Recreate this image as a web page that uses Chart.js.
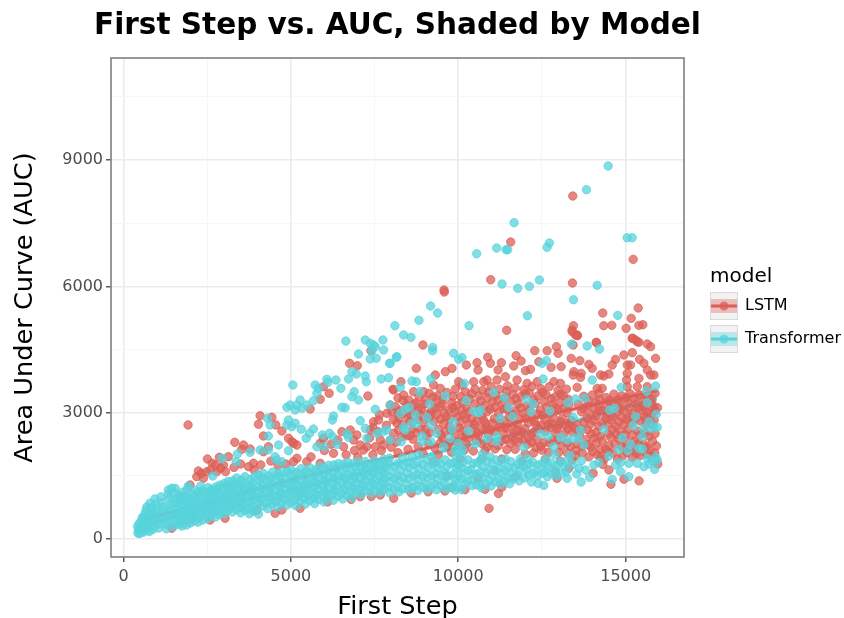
<!DOCTYPE html>
<html>
<head>
<meta charset="utf-8">
<title>First Step vs. AUC</title>
<script src="https://cdn.jsdelivr.net/npm/chart.js@4/dist/chart.umd.min.js"></script>
<style>
  html, body { margin: 0; padding: 0; background: #fff; }
  canvas { display: block; }
</style>
</head>
<body>
<canvas id="auc-chart" width="844" height="618"></canvas>
<script>
// values: [first step, auc]
const lstmPoints = [
[1929,2708],[13420,8146],[11566,7054],[15224,6642],[10968,6158],[13410,6080],[9574,5914],[9583,5866],[15374,5486],[14316,5367],[15165,5241],[13440,5066],[13400,4964],[14346,5066],[14585,5075],[15393,5075],[15513,5090],[15015,5004],[11446,4957],[13500,4845],[13560,4828],[14119,4672],[15194,4767],[15294,4726],[15393,4672],
[6752,4173],[6982,4116],[7391,4472],[6144,3460],[7301,3396],[5974,3617],[5875,3318],[5576,3087],[8049,3555],
[4081,2928],[4430,2890],[4031,2724],[4550,2708],[4180,2446],[4730,2565],[4928,2392],[5029,2311],[5179,2232],[5079,2273],[3324,2297],[3583,2232],[3782,2138],[3533,2130],[4180,2073],[4330,2192],[2506,1900],[2864,1940],[3133,1955],[2736,1758],[2984,1758],[2237,1615],[2189,1480],[3881,1798],[3732,1717],[3902,1639],[2786,1599],[2488,1599],[2386,1442],[1988,1283],[2650,1800],[2900,1680],[3050,1600],[3300,1700],[3500,1780],[4100,1760],[4400,1850],[4620,1750],[2600,1640],[2330,1560],
[6524,2549],[6772,2589],[6972,2470],[6872,2351],[7072,2232],[7271,2192],[7171,2114],[7470,2786],[7620,2826],[7870,2985],[7969,3182],[8019,3023],[8218,2985],[8168,2748],[8218,2589],[8069,2510],[7969,2351],[7670,2351],[7769,2232],[7520,2192],[7370,2589],[5974,2392],[5875,2273],[6573,2192],[6273,2035],[5875,1798],[5179,1916],[5477,1836],[5079,1836],[6000,2100],[6400,2350],[6650,2000],[6900,2100],[7000,1950],[7450,2000],[7700,2100],[8000,2180],[7350,2400],[7600,2550],[7850,2700],[7650,2950],[7450,2650],[6200,2250],[5600,1950],[4850,1780],
[4530,610],[4730,689],[3982,689],[2586,451],[3035,491],[1441,254],[2039,491],[7072,1005],[8069,967],[7670,1045],[5277,1085],[5277,729],[6100,880],[6800,940],[7400,1010],[8600,1090],[9100,1120],[9600,1140],[10200,1170],[10800,1180],[11300,1230],
[8945,4608],[8746,4053],[9314,3895],[9613,3974],[9812,4053],[10241,4132],[10560,4188],[10590,4014],[10879,4315],[10959,4172],[11288,4188],[11188,4014],[11657,4109],[11727,4354],[11876,4228],[12285,4473],[12654,4473],[12933,4568],[12983,4410],[13402,4924],[13551,4845],[13432,4608],[14129,4663],[15216,4766],[15346,4687],[15645,4631],[15745,4568],[15894,4291],[15545,4172],[15416,4267],[15197,4425],[14947,4370],[14698,4267],[14598,4132],[13900,4148],[14000,4053],[13631,4235],[13372,4291],[13073,4093],[12774,4077],[12405,4212],[12155,4030],[12006,3998],[13452,3974],[13432,3895],[13671,3934],[13651,3839],[14249,3895],[14498,3919],[14349,3871],[15047,4132],[15146,4132],[15047,3934],[15027,3776],[15396,3816],[15645,4014],[15844,3895],[15745,3895],
[8287,3736],[8068,3538],[8367,3420],[8666,3499],[8965,3499],[9264,3657],[9464,3578],[10012,3736],[10112,3657],[10461,3736],[10760,3736],[10859,3776],[11158,3776],[11408,3855],[11757,3776],[12056,3697],[12355,3736],[12854,3736],[13053,3697],[13551,3602],[14149,3578],[14299,3578],[14199,3459],[15047,3618],[15346,3618],[15645,3618],
[8200,3350],[8520,3300],[8830,3370],[9130,3460],[9380,3400],[9660,3480],[9910,3560],[10210,3500],[10500,3560],[10730,3530],[10980,3620],[11230,3560],[11470,3640],[11700,3590],[11960,3550],[12200,3620],[12470,3570],[12720,3620],[12980,3530],[13230,3560],
[8120,3140],[8450,3180],[8730,3230],[9020,3300],[9270,3240],[9530,3320],[9800,3240],[10070,3380],[10340,3330],[10620,3400],[10880,3350],[11130,3420],[11400,3370],[11630,3440],[11880,3390],[12120,3470],[12380,3400],[12620,3430],[12890,3370],[13140,3400],
[8340,2980],[8620,3060],[8900,3110],[9200,3040],[9450,3140],[9720,3070],[9960,3170],[10250,3130],[10500,3210],[10790,3170],[11020,3260],[11300,3190],[11560,3260],[11790,3210],[12050,3160],[12300,3220],[12560,3260],[12810,3190],[13060,3240],[13300,3190],
[8060,2830],[8500,2880],[8860,2950],[9110,2870],[9360,2960],[9640,2900],[9900,3010],[10150,2950],[10400,2870],[10700,2920],[10950,3080],[11200,3000],[11460,3080],[11700,3040],[11950,2980],[12200,2880],[12450,3060],[12720,2980],[12980,3060],[13250,3000],
[8340,2720],[8620,2600],[8950,2760],[9280,2790],[9560,2740],[9750,2850],[10050,2780],[10300,2740],[10560,2800],[10820,2740],[11080,2860],[11350,2810],[11590,2760],[11830,2860],[12090,2760],[12330,2700],[12590,2830],[12850,2870],[13110,2860],[13380,2820],
[8450,2450],[8750,2520],[9030,2600],[9400,2600],[9620,2560],[9900,2500],[10150,2580],[10440,2620],[10700,2620],[10950,2600],[11230,2660],[11480,2630],[11740,2600],[11990,2620],[12250,2540],[12490,2700],[12750,2650],[13000,2700],[13280,2620],[13550,2720],
[8150,2300],[8650,2370],[9050,2450],[9520,2400],[9870,2330],[10100,2400],[10300,2400],[10600,2460],[10900,2470],[11350,2490],[11600,2430],[11850,2470],[12100,2400],[12350,2360],[12600,2560],[12900,2520],[13150,2500],[13400,2540],[13620,2460],
[8800,2200],[9300,2160],[9680,2200],[10000,2210],[10250,2240],[10700,2270],[11000,2280],[11300,2330],[11550,2270],[11800,2300],[12070,2250],[12320,2180],[12560,2290],[12820,2340],[13080,2220],[13350,2200],[13560,2260],
[8200,2050],[8950,2030],[9400,2000],[9800,2060],[10450,2090],[10800,2100],[11100,2140],[11450,2120],[11700,2130],[12000,2020],[12250,2040],[12500,2110],[12700,2060],[13000,2060],[13250,2050],[13500,2100],[9250,1850],[10050,1900],[10700,1900],[11300,1900],[11900,1840],[12600,1900],[13050,1850],[13400,1880],[9650,1500],[10600,1440],[11100,1620],[11700,1480],[12900,1600],[13300,1680],
[13750,3390],[14000,3420],[14420,3360],[14650,3440],[14880,3400],[15130,3450],[15400,3420],[15650,3380],[15880,3460],[13580,3200],[13850,3160],[14100,3240],[14340,3170],[14570,3220],[14800,3190],[15050,3250],[15300,3210],[15540,3180],[15780,3230],[15950,3120],
[13680,3020],[13940,2960],[14200,3040],[14440,2950],[14720,2990],[14950,3040],[15200,2980],[15420,3050],[15650,3000],[15870,3040],[13760,2780],[14040,2820],[14300,2760],[14560,2830],[14800,2780],[15020,2840],[15430,2810],[15620,2880],[15850,2820],
[13860,2590],[14120,2540],[14600,2600],[14850,2560],[15080,2610],[15360,2560],[15600,2520],[15880,2500],[13820,2360],[14060,2400],[14300,2330],[14560,2420],[14790,2380],[15000,2340],[15270,2320],[15540,2250],[15800,2320],[15920,2210],
[13960,2180],[14250,2130],[14500,2220],[14980,2160],[15250,2100],[15700,2120],[15870,2040],[13900,1950],[14150,2000],[14360,1900],[14620,2040],[14900,1970],[15200,1940],[15430,1980],[15960,1780],[14320,1770],[14500,1640],[14560,1300],[15400,1380],[14030,1560],[12950,1440],[14950,1420],[10919,727],[11200,1080],[9800,1220],
[8350,3290],[8680,3190],[8980,3200],[9250,3370],[9520,3210],[9840,3390],[10130,3250],[10400,3450],[10680,3280],[10900,3480],[11180,3300],[11450,3500],[11720,3330],[12000,3450],[12250,3310],[12520,3480],[12780,3330],[13050,3440],[13280,3320],
[8250,3050],[8560,2960],[8810,3050],[9080,2970],[9310,3110],[9580,3000],[9840,3120],[10100,3060],[10330,3020],[10620,3080],[10860,3020],[11080,3130],[11350,3090],[11610,2960],[11860,3110],[12130,3080],[12370,2970],[12640,3130],[12900,3120],[13170,3110],
[8230,2880],[8570,2790],[8800,2840],[9180,2950],[9470,2850],[9740,2680],[9980,2900],[10230,2860],[10480,2720],[10760,2820],[11010,2750],[11260,2730],[11520,2900],[11770,2720],[12020,2870],[12270,2800],[12520,2940],[12780,2750],[13060,2780],[13320,2740],
[8310,2430],[8560,2460],[8880,2600],[9150,2530],[9490,2470],[9780,2580],[10030,2640],[10230,2470],[10560,2530],[10830,2620],[11100,2560],[11400,2640],[11660,2520],[11910,2540],[12180,2480],[12400,2620],[12680,2720],[12950,2620],[13200,2700],[13480,2630],
[8500,2130],[9100,2270],[9450,2270],[9720,2280],[10180,2110],[10550,2350],[10850,2180],[11200,2220],[11420,2370],[11680,2340],[11950,2340],[12200,2300],[12460,2200],[12720,2280],[12970,2350],[13250,2280],[13500,1980],[13700,2050],
[13880,3290],[14220,3310],[14510,3290],[14770,3300],[15010,3350],[15250,3330],[15530,3290],[15760,3320],[13740,3100],[14060,3100],[14300,3060],[14560,3090],[14850,3100],[15110,3120],[15370,3110],[15590,3090],[15840,3130],[13850,2870],[14120,2920],[14400,2860],[14620,2900],[14880,2890],[15120,2900],[15320,2880],[15540,2900],[15760,2920],
[13950,2730],[14200,2680],[14450,2720],[14700,2680],[14950,2720],[15190,2760],[15600,2720],[15780,2720],[13680,2610],[13980,2500],[14240,2440],[14480,2500],[14720,2480],[14980,2480],[15200,2470],[15440,2480],[15700,2440],[13700,2200],[13880,2240],[14120,2280],[14400,2130],[14680,2250],[14880,2190],[15120,2170],[15380,2280],[15620,2180],[14020,2080],[14260,1950],[14480,2070],[14760,1900],[15050,2050],[15320,2030],[15620,2020],[15780,1960]
];
const transformerPoints = [
[14477,8859],[13830,8297],[11667,7513],[11147,6911],[11427,6872],[11476,6870],[10550,6776],[12722,7030],[12652,6928],[15044,7156],[15194,7156],[11307,6056],[11776,5954],[12124,6001],[12424,6151],[14148,6025],[13440,5683],[12065,5304],[14764,5312],[9173,5534],[9383,5367],[8826,5194],[8107,5066],[8367,4845],[8586,4790],[10321,5066],
[6643,4702],[7221,4726],[7370,4648],[7470,4607],[7749,4726],[7520,4567],[7769,4489],[7421,4472],[7021,4394],[7370,4275],[7550,4292],[7947,4173],[8148,4315],[6823,3973],[6952,3919],[6722,3800],[7221,3871],[7251,3736],[7699,3800],[7918,3831],[6345,3776],[6076,3793],[6106,3722],[5726,3657],[5059,3657],[6494,3579],[5777,3460],[5825,3579],[6892,3498],[6823,3380],[7021,3301],[6623,3118],[6524,3128],[7520,3080],
[5277,3301],[4978,3182],[4880,3128],[5128,3064],[5328,3104],[5478,3182],[5675,3285],[5179,3182],[6273,2921],[6243,2826],[4928,2826],[4880,2708],[5128,2748],[5029,2667],[4380,2708],[4300,2867],[5307,2605],[5675,2613],[5556,2510],[5457,2392],[4330,2446],[6154,2510],[6243,2430],[5944,2470],[5777,2192],[5995,2192],[6375,2249],[6673,2494],[6722,2415],[7221,2629],[7072,2810],[7870,2589],[7570,2510],[7271,2392],[7749,2549],[4629,2232],[4928,2097],[4580,1876],[4730,1836],[4530,1955],[2954,1916],[3403,2019],[3364,1836],[3782,2059],[4081,2114],[4330,2114],[2667,1496],
[9862,4410],[10012,4267],[10112,4307],[9234,4552],[9234,4473],[8167,4330],[7968,4172],[13382,4631],[13850,4584],[14219,4513],[12504,4172],[12634,4235],[12534,3800],[14000,3776],[14867,3602],[15625,3515],[15894,3633],[9184,3800],[8616,3752],[8746,3736],[8267,3602],[8845,3499],[9613,3404],[9144,3206],[10241,3285],[10181,3697],[11059,3483],[11378,3356],[12036,3317],[12235,3206],[11507,3127],[10610,3000],[10461,3040],[10660,3063],[12175,3024],[12734,3040],[13272,3237],[13501,3325],[13780,3340],[14528,3063],[14668,3103],[15645,3237],[15914,2960],[15296,2905],[11258,2865],[11627,2905],[13432,2889],[9842,2786],[9812,2612],[10311,2564],[9344,2509],[8915,2445],[8915,2311],[9184,2311],[8367,2651],[8417,2588],[8297,2311],[8716,2944],[8766,2746],[9065,2889],[9184,2707],[8536,3127],[8417,3079],[8267,2984],[7968,3182],[7968,2350],[8616,2746],[12455,2493],[12684,2445],[13053,2414],[13651,2588],[14349,2604],[14897,2406],[15226,2691],[15496,2430],[15844,2667],[15944,2651],[15695,2786],[15745,2628],[15516,2628],[11158,2430],[11138,2311],[10859,2390],[10511,2255],[9763,2390],[9563,2192],[11956,2176],[12853,2192],[13252,2350],[13452,2390],[13601,2390],[13751,2232],[14797,2129],[15066,2097],[15146,2247],[15396,2152],[15496,2137],[14498,1970],[14698,1756],[14847,1812],[15096,1796],[15346,1796],[15645,1915],[15894,1939],[15944,1875],[15545,1717],[15864,1653],[14199,1812],[14050,1756],[13800,1638],[13920,1463],[13671,1352],[13252,1440],[12554,1273],[12385,1321],[12185,1352],[14598,1416],[15096,1479],[14847,1598],[15700,1780],[15800,1850],
[430,140],[450,220],[420,300],[470,370],[480,130],[520,190],[510,280],[540,350],[530,430],[560,510],[590,160],[600,250],[620,330],[640,420],[620,500],[640,590],[670,680],[700,760],[690,200],[710,290],[730,380],[760,470],[780,560],[800,650],[820,740],[790,850],[780,180],[880,230],[870,320],[900,420],[920,520],[950,620],[970,720],[960,830],[940,950],[1050,260],[1080,360],[1110,460],[1130,560],[1160,660],[1180,760],[1160,860],[1120,1000],[1280,240],[1300,340],[1330,440],[1350,540],[1380,640],[1400,740],[1420,840],[1380,960],[1330,1060],[1530,1090],[1560,960],[1580,850],[1500,300],[1520,400],[1560,500],[1590,600],[1610,700],[1441,1204],[1540,1204],[1340,1164],[1938,1259],[2308,1259],
[1750,310],[1720,430],[1780,540],[1800,650],[1760,770],[1790,880],[1780,1000],[1770,1110],[2000,380],[1950,500],[2020,610],[1990,720],[2050,830],[1980,950],[2040,1070],[2230,400],[2260,520],[2200,640],[2270,750],[2210,870],[2280,990],[2220,1110],[2500,480],[2480,600],[2530,720],[2470,840],[2540,960],[2490,1080],[2530,1220],[2750,520],[2700,640],[2770,760],[2720,880],[2780,1000],[2720,1120],[2770,1240],[3000,600],[2960,720],[3020,840],[2970,960],[3040,1080],[2980,1200],[3010,1320],[3250,640],[3200,760],[3270,880],[3220,1000],[3290,1120],[3230,1240],[3260,1380],
[3500,620],[3470,750],[3540,880],[3480,1010],[3550,1140],[3490,1270],[3530,1400],[3760,600],[3730,730],[3790,870],[3740,1000],[3800,1130],[3740,1260],[3790,1410],[4030,590],[3990,720],[4060,860],[4000,990],[4070,1120],[4010,1250],[4060,1390],[4030,1520],[4310,720],[4260,850],[4330,980],[4270,1110],[4340,1240],[4280,1370],[4330,1500],[4590,760],[4540,890],[4610,1020],[4550,1150],[4620,1280],[4560,1410],[4610,1550],[4870,800],[4820,930],[4890,1060],[4830,1190],[4900,1320],[4840,1450],[4890,1600],
[5150,790],[5100,920],[5170,1050],[5110,1180],[5180,1310],[5120,1440],[5170,1580],[5430,830],[5380,960],[5450,1090],[5390,1220],[5460,1350],[5400,1480],[5450,1620],[5710,840],[5660,970],[5730,1100],[5670,1230],[5740,1360],[5680,1490],[5730,1640],[5990,880],[5940,1010],[6010,1140],[5950,1270],[6020,1400],[5960,1530],[6010,1690],[6270,920],[6220,1050],[6290,1180],[6230,1310],[6300,1440],[6240,1570],[6290,1760],[6550,950],[6500,1080],[6570,1210],[6510,1340],[6580,1470],[6520,1600],[6570,1780],[6830,980],[6780,1110],[6850,1240],[6790,1370],[6860,1500],[6800,1630],[6850,1790],[7110,1060],[7060,1190],[7130,1320],[7070,1450],[7140,1580],[7080,1710],[7390,1090],[7340,1220],[7410,1350],[7350,1480],[7420,1610],[7360,1750],[7670,1110],[7620,1240],[7690,1370],[7630,1500],[7700,1630],[7640,1800],[7950,1100],[7900,1230],[7970,1360],[7910,1490],[7980,1620],[7920,1790],[7950,1920],
[8230,1120],[8180,1250],[8250,1380],[8190,1510],[8260,1640],[8200,1800],[8510,1170],[8460,1300],[8530,1430],[8470,1560],[8540,1690],[8480,1820],[8790,1150],[8740,1280],[8810,1410],[8750,1540],[8820,1670],[8780,1820],[8830,2000],[9070,1180],[9020,1310],[9090,1440],[9030,1570],[9100,1700],[9040,1890],[9350,1170],[9300,1300],[9370,1430],[9310,1560],[9380,1690],[9340,1830],[9630,1190],[9580,1320],[9650,1450],[9590,1580],[9660,1710],[9610,1880],[9910,1160],[9860,1290],[9930,1420],[9870,1550],[9940,1680],[9880,1810],[9930,1950],[9900,2100],[10100,1170],[10180,1300],[10080,1430],[10170,1560],[10090,1690],[10160,1820],[10090,1980],[10130,2130],[10000,2270],[10420,1270],[10370,1400],[10440,1530],[10380,1660],[10450,1790],[10700,1210],[10650,1340],[10720,1470],[10660,1600],[10730,1730],[10670,1880],[10720,2020],[10980,1260],[10930,1390],[11000,1520],[10940,1650],[11010,1780],[10950,1950],[11260,1300],[11210,1430],[11280,1560],[11220,1690],[11290,1820],[11540,1310],[11490,1440],[11560,1570],[11500,1700],[11570,1840],[11820,1380],[11770,1510],[11840,1640],[11780,1770],[11850,1900],[12100,1520],[12050,1650],[12120,1780],[12060,1910],[12380,1500],[12330,1630],[12400,1760],[12660,1480],[12610,1610],[12680,1740],[12620,1900],[12940,1500],[12890,1630],[12960,1760],[12880,2000],[13220,1600],[13170,1730],[13240,1860],[13340,1980],[13540,1540],[13610,1680],[13680,1860],[13420,1770],
[1660,350],[1640,540],[1680,820],[1670,1030],[1880,330],[1870,570],[1910,780],[1880,1020],[1900,1180],[2120,430],[2130,680],[2110,920],[2150,1150],[2370,450],[2360,680],[2390,900],[2360,1150],[2620,560],[2630,800],[2610,1010],[2640,1180],[2860,580],[2870,820],[2850,1060],[2880,1280],[3120,680],[3110,900],[3140,1140],[3130,1370],[3370,700],[3360,950],[3390,1200],[3380,1450],[3620,680],[3610,940],[3640,1200],[3630,1480],[3880,660],[3900,930],[3880,1190],[3910,1480],[4160,780],[4150,1050],[4180,1310],[4170,1560],[4430,830],[4440,1050],[4430,1300],[4460,1590],[4720,860],[4700,1090],[4730,1340],[4720,1600],[5000,860],[4990,1120],[5020,1380],[5010,1640],[5270,900],[5280,1130],[5290,1400],[5300,1670],[5560,910],[5550,1160],[5580,1430],[5570,1690],[5830,940],[5840,1190],[5850,1460],[5860,1720],[6110,990],[6120,1230],[6140,1490],[6130,1750],[6400,1010],[6390,1250],[6410,1520],[6420,1790],[6680,1030],[6690,1290],[6700,1540],[6700,1820],[6960,1110],[6970,1310],[6980,1570],[7000,1830],[7230,1150],[7240,1390],[7250,1650],[7220,1840],[7520,1170],[7530,1420],[7540,1680],[7500,1860],[7800,1190],[7800,1440],[7820,1700],[7780,1900],[8080,1180],[8090,1440],[8100,1720],[8340,1190],[8350,1460],[8370,1750],[8340,1930],[8640,1230],[8650,1490],[8660,1760],[8620,1950],[8920,1230],[8930,1490],[8940,1770],[9200,1240],[9210,1500],[9220,1780],[9200,1950],[9480,1250],[9490,1510],[9480,1780],[9780,1230],[9760,1500],[9760,1790],[9990,1220],[10010,1480],[10000,1750],[10020,2050],[10270,1360],[10280,1620],[10290,1880],[10560,1280],[10550,1540],[10570,1810],[10840,1310],[10830,1570],[10850,1850],[11120,1360],[11110,1620],[11130,1880],[11390,1380],[11400,1620],[11410,1900],[11660,1430],[11680,1700],[11970,1450],[11960,1720],[12240,1560],[12230,1820],[12520,1560],[12520,1800],[12790,1550],[12780,1800],[13070,1560],[13060,1830],
[1700,620],[1690,930],[1850,450],[1840,680],[1860,900],[2080,550],[2100,800],[2090,1000],[2320,580],[2330,800],[2310,1050],[2560,650],[2580,880],[2570,1120],[2800,680],[2820,940],[2810,1170],[3060,770],[3070,1010],[3080,1250],[3310,820],[3320,1060],[3330,1300],[3560,800],[3570,1070],[3580,1330],[3830,790],[3840,1060],[3850,1330],[4110,930],[4120,1190],[4130,1450],[4390,920],[4380,1180],[4400,1440],[4660,960],[4670,1220],[4680,1480],[4950,990],[4960,1250],[4970,1530],[5220,1000],[5240,1250],[5250,1530],[5500,1030],[5520,1290],[5530,1560],[5780,1040],[5790,1300],[5800,1590],[6060,1080],[6070,1340],[6080,1620],[6340,1120],[6350,1380],[6360,1660],[6620,1150],[6630,1410],[6640,1690],[6900,1180],[6910,1440],[6920,1710],[7170,1250],[7190,1520],[7200,1760],[7460,1290],[7470,1550],[7480,1770],[7740,1310],[7750,1570],[7760,1800]
];
// smoothing line and its band
const smoothX = [540, 2800, 5000, 6800, 8000, 10000, 12000, 14000, 15930];
const lstmSmooth = [450, 925, 1400, 1756, 1940, 2350, 2826, 3185, 3520];
const lstmUpper = [510, 960, 1430, 1790, 1990, 2410, 2880, 3260, 3630];
const lstmLower = [390, 890, 1370, 1720, 1890, 2290, 2770, 3110, 3410];
const transformerSmooth = [300, 820, 1150, 1510, 1770, 2180, 2530, 2900, 3330];
const transformerUpper = [350, 850, 1180, 1545, 1810, 2230, 2590, 2980, 3440];
const transformerLower = [250, 790, 1120, 1475, 1730, 2130, 2470, 2820, 3220];

const xTicks = [0, 2500, 5000, 7500, 10000, 12500, 15000];
const yTicks = [0, 1500, 3000, 4500, 6000, 7500, 9000, 10500];
const modelNames = ["LSTM", "Transformer"];
const lstmColor = "219,95,87";
const transformerColor = "87,211,219";

const toXY = (pairs) => pairs.map((p) => ({ x: p[0], y: p[1] }));
const onSmooth = (ys) => ys.map((y, i) => ({ x: smoothX[i], y: y }));

// legend key: grey square, band, line and dot. Transparent on the right so
// that the centred image lands on the legend's left edge.
const makeKey = (rgb) => {
  let c = document.createElement("canvas");
  c.width = 44;
  c.height = 28;
  let k = c.getContext("2d");
  k.fillStyle = "#f2f2f2";
  k.fillRect(0, 0, 28, 28);
  k.strokeStyle = "#d9d9d9";
  k.lineWidth = 1;
  k.strokeRect(0.5, 0.5, 27, 27);
  k.fillStyle = `rgba(${rgb},0.35)`;
  k.fillRect(1, 7, 26, 14);
  k.fillStyle = `rgba(${rgb},1)`;
  k.fillRect(1, 12.5, 26, 3);
  k.fillStyle = `rgba(${rgb},0.75)`;
  k.beginPath();
  k.arc(14, 14, 4.5, 0, Math.PI * 2);
  k.fill();
  return c;
};

const bandSet = (ys, rgb, target) => ({
  data: onSmooth(ys),
  showLine: true,
  pointRadius: 0,
  borderWidth: 0,
  borderColor: "transparent",
  backgroundColor: `rgba(${rgb},0.3)`,
  fill: target === undefined ? false : target,
  order: 3,
});
const lineSet = (ys, rgb) => ({
  data: onSmooth(ys),
  showLine: true,
  pointRadius: 0,
  borderWidth: 3,
  borderColor: `rgb(${rgb})`,
  fill: false,
  order: 3,
});
const markSet = (name, pairs, rgb, order) => ({
  label: name,
  data: toXY(pairs),
  pointRadius: 4.2,
  pointBorderWidth: 1,
  pointBackgroundColor: `rgba(${rgb},0.75)`,
  pointBorderColor: `rgba(${rgb},0.75)`,
  order: order,
});

const panelBorder = {
  id: "panelBorder",
  afterLayout(chart) {
    // the legend sits a little away from the panel and not vertically centred.
    // right and bottom too, the legend clips its text to this box
    chart.legend.left = 710;
    chart.legend.right = 844;
    chart.legend.top = 267;
    chart.legend.bottom = 618;
    // title is centred on the panel but wider than it, and gets squeezed otherwise
    chart.titleBlock.left = 80;
    chart.titleBlock.right = 715;
  },
  afterDatasetsDraw(chart) {
    const a = chart.chartArea;
    const ctx = chart.ctx;
    ctx.save();
    ctx.strokeStyle = "#7f7f7f";
    ctx.lineWidth = 1.6;
    ctx.strokeRect(a.left, a.top, a.right - a.left, a.bottom - a.top);
    ctx.restore();
  },
};

const isMajor = (ctx, major) => ctx.tick && ctx.tick.value % major === 0;
const gridFor = (major) => ({
  color: (ctx) => (isMajor(ctx, major) ? "#ebebeb" : "#f6f6f6"),
  lineWidth: (ctx) => (isMajor(ctx, major) ? 1.6 : 1),
  tickColor: (ctx) => (isMajor(ctx, major) ? "#333333" : "transparent"),
  tickWidth: 1.2,
  tickLength: 5,
});
const tickFor = (major, pad) => ({
  autoSkip: false,
  maxRotation: 0,
  padding: pad,
  color: "#4d4d4d",
  font: { family: "DejaVu Sans", size: 16 },
  callback: (v) => (v % major === 0 ? String(v) : ""),
});

new Chart(document.getElementById("auc-chart").getContext("2d"), {
  type: "scatter",
  data: {
    datasets: [
      markSet(modelNames[0], lstmPoints, lstmColor, 2),
      markSet(modelNames[1], transformerPoints, transformerColor, 1),
      bandSet(lstmUpper, lstmColor, 3),
      bandSet(lstmLower, lstmColor),
      lineSet(lstmSmooth, lstmColor),
      bandSet(transformerUpper, transformerColor, 6),
      bandSet(transformerLower, transformerColor),
      lineSet(transformerSmooth, transformerColor),
    ],
  },
  plugins: [panelBorder],
  options: {
    responsive: false,
    animation: false,
    events: [],
    layout: { padding: { left: 0, right: 19, top: 0, bottom: 0 } },
    scales: {
      x: {
        type: "linear",
        min: -373,
        max: 16742,
        grid: gridFor(5000),
        border: { display: false },
        ticks: tickFor(5000, 5),
        afterBuildTicks(s) {
          s.ticks = xTicks.map((v) => ({ value: v }));
        },
        title: {
          display: true,
          text: "First Step",
          color: "#000",
          font: { family: "DejaVu Sans", size: 25.6 },
          padding: { top: 0, bottom: -5 },
        },
        afterFit(s) {
          s.height = 61;
        },
      },
      y: {
        type: "linear",
        min: -428,
        max: 11425,
        grid: gridFor(3000),
        border: { display: false },
        ticks: tickFor(3000, 3),
        afterBuildTicks(s) {
          s.ticks = yTicks.map((v) => ({ value: v }));
        },
        title: {
          display: true,
          text: "Area Under Curve (AUC)",
          color: "#000",
          font: { family: "DejaVu Sans", size: 25.6 },
          padding: { top: 10, bottom: 0 },
        },
        afterFit(s) {
          s.width = 111;
        },
      },
    },
    plugins: {
      tooltip: { enabled: false },
      title: {
        display: true,
        text: "First Step vs. AUC, Shaded by Model",
        fullSize: false,
        color: "#000",
        font: { family: "DejaVu Sans", size: 29.5, weight: "bold" },
        padding: { top: 8.8, bottom: 13.8 },
      },
      legend: {
        position: "right",
        align: "start",
        title: {
          display: true,
          text: "model",
          color: "#000",
          position: "start",
          padding: { top: 0, bottom: -10 },
          font: { family: "DejaVu Sans", size: 20 },
        },
        labels: {
          usePointStyle: true,
          pointStyleWidth: 10,
          padding: 17,
          color: "#000",
          font: { family: "DejaVu Sans", size: 16 },
          generateLabels: () =>
            modelNames.map((name, i) => ({
              text: name,
              datasetIndex: i,
              hidden: false,
              lineWidth: 0,
              fontColor: "#000",
              pointStyle: makeKey(i === 0 ? lstmColor : transformerColor),
            })),
        },
      },
    },
  },
});
</script>
</body>
</html>
